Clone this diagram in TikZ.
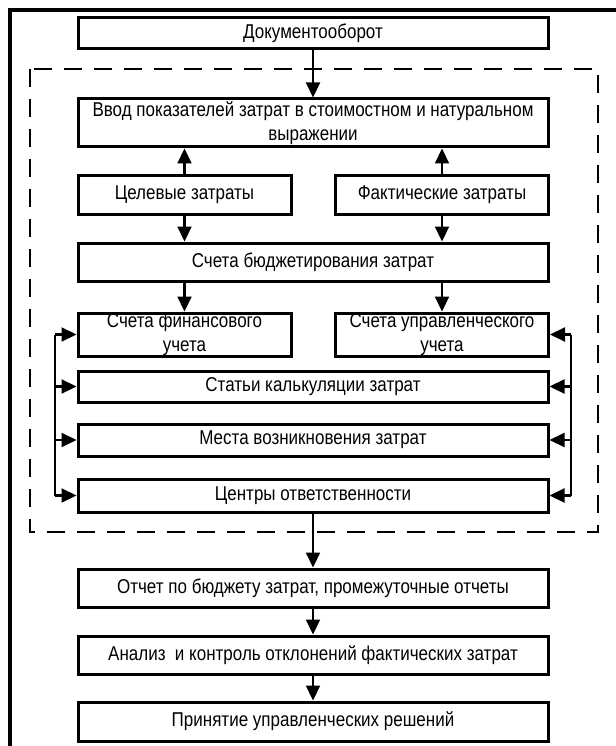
\documentclass[tikz,border=0pt]{standalone}
\usepackage{fontspec}
\setmainfont{Liberation Sans}[FakeStretch=0.85]
\usetikzlibrary{arrows.meta}
\begin{document}
\begin{tikzpicture}[x=1pt,y=-1pt,
  stepbox/.style={draw, line width=3pt, inner sep=0pt, align=center, font=\fontsize{20}{24}\selectfont},
  wide/.style={stepbox, minimum width=470pt},
  half/.style={stepbox, minimum width=213pt},
  conn/.style={line width=2.2pt, -{Triangle[length=15pt,width=14pt]}},
  bus/.style={line width=2.2pt},
  dashbox/.style={line width=2.8pt, dash pattern=on 18pt off 12pt}]
\useasboundingbox (0,0) rectangle (615,746);
% outer frame
\draw[line width=4.5pt] (10,760) -- (10,10) -- (630,10);
% dashed region
\draw[dashbox] (30,69) rectangle (598,532);
% boxes
\node[wide, minimum height=31pt] (dok) at (313,33.5) {Документооборот};
\node[wide, minimum height=48pt] (vvod) at (313,123) {Ввод показателей затрат в стоимостном и натуральном\\выражении};
\node[half, minimum height=38pt] (cel) at (184.5,195) {Целевые затраты};
\node[half, minimum height=38pt] (fakt) at (442,195) {Фактические затраты};
\node[wide, minimum height=38pt] (budg) at (313,262) {Счета бюджетирования затрат};
\node[half, minimum height=43pt] (fin) at (184.5,334.5) {Счета финансового\\учета};
\node[half, minimum height=43pt] (upr) at (442,334.5) {Счета управленческого\\учета};
\node[wide, minimum height=31pt] (stati) at (313,386.5) {Статьи калькуляции затрат};
\node[wide, minimum height=32pt] (mesta) at (313,440) {Места возникновения затрат};
\node[wide, minimum height=33pt] (centr) at (313,495.5) {Центры ответственности};
\node[wide, minimum height=38pt] (otchet) at (313,588) {Отчет по бюджету затрат, промежуточные отчеты};
\node[wide, minimum height=38pt] (analiz) at (313,655) {Анализ\ \ и контроль отклонений фактических затрат};
\node[wide, minimum height=39pt] (prin) at (313,721.5) {Принятие управленческих решений};
% bus coordinates
\coordinate (lb) at (55,0);
\coordinate (rb) at (571,0);
% connectors
\draw[conn] (dok) -- (vvod);
\draw[conn] (cel) -- (cel |- vvod.south);
\draw[conn] (fakt) -- (fakt |- vvod.south);
\draw[conn] (cel) -- (cel |- budg.north);
\draw[conn] (fakt) -- (fakt |- budg.north);
\draw[conn] (budg.south -| fin) -- (fin);
\draw[conn] (budg.south -| upr) -- (upr);
\draw[conn] (centr) -- (otchet);
\draw[conn] (otchet) -- (analiz);
\draw[conn] (analiz) -- (prin);
% buses
\draw[bus] (lb |- fin.west) -- (lb |- centr.west);
\draw[bus] (rb |- upr.east) -- (rb |- centr.east);
\foreach \n in {fin,stati,mesta,centr} {
  \draw[conn] (lb |- \n.west) -- (\n.west);
}
\foreach \n in {upr,stati,mesta,centr} {
  \draw[conn] (rb |- \n.east) -- (\n.east);
}
\end{tikzpicture}
\end{document}
